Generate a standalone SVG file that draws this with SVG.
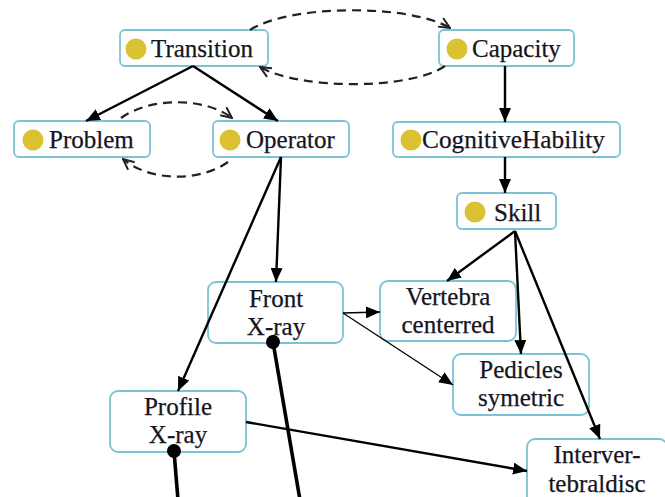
<svg xmlns="http://www.w3.org/2000/svg" width="665" height="497" viewBox="0 0 665 497">
<defs>
<style>
.box{fill:#fff;stroke:#7cc3d6;stroke-width:1.8}
.dot{fill:#dbc232}
.lbl{font-family:"Liberation Serif","DejaVu Serif",serif;font-size:25px;fill:#15151f;stroke:#15151f;stroke-width:0.25}
.c{text-anchor:middle}
.e{fill:none;stroke:#000;stroke-width:2.4}
.thin{fill:none;stroke:#000;stroke-width:1.3}
.d{fill:none;stroke:#222;stroke-width:2.2;stroke-dasharray:9 6}
.k{fill:none;stroke:#000;stroke-width:3.6}
</style>
<marker id="ar" markerUnits="userSpaceOnUse" viewBox="0 0 14 12" refX="14" refY="6" markerWidth="14" markerHeight="12" orient="auto">
<path d="M0,0L14,6L0,12z" fill="#000"/>
</marker>
<marker id="op" markerUnits="userSpaceOnUse" viewBox="0 0 14 12" refX="13" refY="6" markerWidth="14" markerHeight="12" orient="auto">
<path d="M2,1L13,6L2,11" fill="none" stroke="#222" stroke-width="2"/>
</marker>
<marker id="bd" markerUnits="userSpaceOnUse" viewBox="0 0 16 16" refX="8" refY="8" markerWidth="16" markerHeight="16" orient="auto">
<circle cx="8" cy="8" r="7" fill="#000"/>
</marker>
</defs>
<rect width="665" height="497" fill="#fff"/>
<g id="transition">
<rect class="box" x="120" y="30" width="148" height="36" rx="5"/>
<circle class="dot" cx="136" cy="49" r="10.5"/>
<text class="lbl" x="151" y="57">Transition</text>
</g>
<g id="capacity">
<rect class="box" x="439" y="30" width="135" height="36" rx="5"/>
<circle class="dot" cx="457" cy="49" r="10.5"/>
<text class="lbl" x="472" y="57">Capacity</text>
</g>
<g id="problem">
<rect class="box" x="14" y="121" width="136" height="36" rx="5"/>
<circle class="dot" cx="33" cy="140" r="10.5"/>
<text class="lbl" x="49" y="148">Problem</text>
</g>
<g id="operator">
<rect class="box" x="213" y="121" width="136" height="36" rx="5"/>
<circle class="dot" cx="230" cy="140" r="10.5"/>
<text class="lbl" x="246" y="148">Operator</text>
</g>
<g id="cognitivehability">
<rect class="box" x="393" y="122" width="227" height="35" rx="5"/>
<circle class="dot" cx="411" cy="140" r="10.5"/>
<text class="lbl" x="422" y="148" textLength="183" lengthAdjust="spacingAndGlyphs">CognitiveHability</text>
</g>
<g id="skill">
<rect class="box" x="457" y="193" width="99" height="36" rx="5"/>
<circle class="dot" cx="475" cy="212" r="10.5"/>
<text class="lbl" x="494" y="221">Skill</text>
</g>
<g id="front-xray">
<rect class="box" x="208" y="282" width="135" height="61" rx="8"/>
<text class="lbl c" x="276" y="307">Front</text>
<text class="lbl c" x="276" y="335">X-ray</text>
</g>
<g id="vertebra-centerred">
<rect class="box" x="380" y="281" width="136" height="60" rx="8"/>
<text class="lbl c" x="448" y="305">Vertebra</text>
<text class="lbl c" x="448" y="333">centerred</text>
</g>
<g id="pedicles-symetric">
<rect class="box" x="453" y="354" width="136" height="61" rx="8"/>
<text class="lbl c" x="521" y="378">Pedicles</text>
<text class="lbl c" x="521" y="406">symetric</text>
</g>
<g id="profile-xray">
<rect class="box" x="110" y="391" width="136" height="61" rx="8"/>
<text class="lbl c" x="178" y="415">Profile</text>
<text class="lbl c" x="178" y="443">X-ray</text>
</g>
<g id="intervertebraldisc">
<rect class="box" x="527" y="439" width="140" height="70" rx="8"/>
<text class="lbl c" x="597" y="463">Interver-</text>
<text class="lbl c" x="597" y="492">tebraldisc</text>
</g>
<g id="connectors">
<path class="e" d="M193,66L86,121" marker-end="url(#ar)"/>
<path class="e" d="M193,66L278,121" marker-end="url(#ar)"/>
<path class="d" d="M121,118C150,97 205,97 232,118" marker-end="url(#op)"/>
<path class="d" d="M228,162C200,182 150,182 123,159" marker-end="url(#op)"/>
<path class="d" d="M250,30C290,4 410,4 450,28" marker-end="url(#op)"/>
<path class="d" d="M445,66C410,90 300,90 260,67" marker-end="url(#op)"/>
<path class="e" d="M505,66L505,122" marker-end="url(#ar)"/>
<path class="e" d="M505,157L505,193" marker-end="url(#ar)"/>
<path class="e" d="M515,231L447,281" marker-end="url(#ar)"/>
<path class="e" d="M515,231L521,354" marker-end="url(#ar)"/>
<path class="e" d="M515,231L600,439" marker-end="url(#ar)"/>
<path class="e" d="M281,157L276,282" marker-end="url(#ar)"/>
<path class="e" d="M281,157L178,391" marker-end="url(#ar)"/>
<path class="thin" d="M343,313L380,312" marker-end="url(#ar)"/>
<path class="thin" d="M343,313L453,385" marker-end="url(#ar)"/>
<path class="e" d="M246,422L527,471" marker-end="url(#ar)"/>
<path class="k" d="M273,342L300,500" marker-start="url(#bd)"/>
<path class="k" d="M174,451L178,500" marker-start="url(#bd)"/>
</g>
</svg>
